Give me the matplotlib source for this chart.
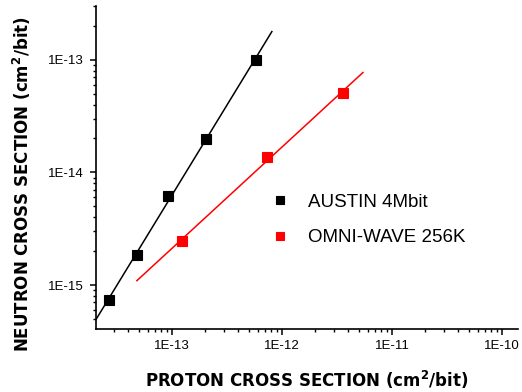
import numpy as np
import matplotlib
matplotlib.use("Agg")
import matplotlib.pyplot as plt
from matplotlib.lines import Line2D
from matplotlib.ticker import LogLocator, FixedLocator, FixedFormatter, NullFormatter

plt.rcParams['font.family'] = ['Liberation Sans', 'DejaVu Sans']

# Data
austin_x = [2.67e-14, 4.8e-14, 9.2e-14, 2.04e-13, 5.8e-13]
austin_y = [7.35e-16, 1.85e-15, 6.2e-15, 1.97e-14, 1.0e-13]
omni_x = [1.23e-13, 7.3e-13, 3.59e-12]
omni_y = [2.46e-15, 1.36e-14, 5.09e-14]
austin_fit_range = [2.04e-14, 8.1e-13]
omni_fit_range = [4.8e-14, 5.45e-12]
series_labels = ["AUSTIN 4Mbit", "OMNI-WAVE 256K"]
xtick_vals = [1e-13, 1e-12, 1e-11, 1e-10]
xtick_labels = ["1E-13", "1E-12", "1E-11", "1E-10"]
ytick_vals = [1e-15, 1e-14, 1e-13]
ytick_labels = ["1E-15", "1E-14", "1E-13"]

fig = plt.figure(figsize=(5.22, 3.92), dpi=100)
ax = fig.add_axes([96/522, 1-329/392, (518-96)/522, (329-6)/392])
ax.set_xscale('log')
ax.set_yscale('log')

def fit_line(xs, ys, rng):
    p = np.polyfit(np.log10(xs), np.log10(ys), 1)
    lx = np.log10(rng)
    return rng, 10**np.polyval(p, lx)

fx, fy = fit_line(austin_x, austin_y, austin_fit_range)
ax.plot(fx, fy, color='black', lw=1.1, zorder=2)
fx, fy = fit_line(omni_x, omni_y, omni_fit_range)
ax.plot(fx, fy, color='red', lw=1.1, zorder=2)

ax.plot(austin_x, austin_y, 's', color='black', ms=7.4, mew=0.8, zorder=3)
ax.plot(omni_x, omni_y, 's', color='red', ms=7.4, mew=0.8, zorder=3)

ax.set_xlim(2.04e-14, 1.4e-10)
ax.set_ylim(4.07e-16, 3e-13)

for s in ['top', 'right']:
    ax.spines[s].set_visible(False)
for s in ['left', 'bottom']:
    ax.spines[s].set_linewidth(1.2)

ax.xaxis.set_major_locator(FixedLocator(xtick_vals))
ax.xaxis.set_major_formatter(FixedFormatter(xtick_labels))
ax.yaxis.set_major_locator(FixedLocator(ytick_vals))
ax.yaxis.set_major_formatter(FixedFormatter(ytick_labels))
ax.xaxis.set_minor_locator(LogLocator(base=10, subs=np.arange(2, 10), numticks=20))
ax.yaxis.set_minor_locator(LogLocator(base=10, subs=np.arange(2, 10), numticks=20))
ax.xaxis.set_minor_formatter(NullFormatter())
ax.yaxis.set_minor_formatter(NullFormatter())
ax.tick_params(which='major', direction='out', length=4.3, width=1.1, labelsize=9.5)
ax.tick_params(axis='y', which='major', pad=4.5)
ax.tick_params(axis='x', which='major', pad=3.5)
ax.tick_params(which='minor', direction='out', length=2.5, width=1.0)

lab_kw = dict(fontsize=12, fontweight='bold', family=['DejaVu Sans'])
ax.set_xlabel("PROTON CROSS SECTION (cm$^{\\mathregular{2}}$/bit)", **lab_kw)
ax.set_ylabel("NEUTRON CROSS SECTION (cm$^{\\mathregular{2}}$/bit)", **lab_kw)
ax.xaxis.set_label_coords(0.5, (329-369)/323)
ax.yaxis.set_label_coords((33-96)/422, (329-184.5)/323)

handles = [Line2D([], [], marker='s', ls='none', color='black', ms=5.8, mew=0.8),
           Line2D([], [], marker='s', ls='none', color='red', ms=5.8, mew=0.8)]
leg = ax.legend(handles, series_labels, frameon=False, loc='upper left',
                bbox_to_anchor=(270.6/522, 1-193.5/392), bbox_transform=fig.transFigure,
                fontsize=13.5, handlelength=1.0, handletextpad=0.99, labelspacing=1.0,
                borderaxespad=0, borderpad=0)

fig.savefig("out.png", dpi=100)
